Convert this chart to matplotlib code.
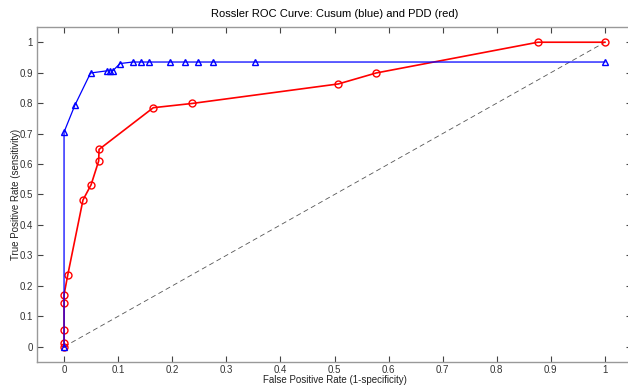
import matplotlib
matplotlib.use('Agg')
import matplotlib.pyplot as plt

plt.rcParams['font.family'] = ['Liberation Sans', 'DejaVu Sans']

# Cusum (blue)
cusum_fpr = [0, 0, 0.020, 0.049, 0.079, 0.085, 0.090, 0.1035, 0.127, 0.142, 0.157,
             0.196, 0.224, 0.247, 0.276, 0.353, 1.0]
cusum_tpr = [0, 0.705, 0.793, 0.899, 0.906, 0.906, 0.906, 0.930, 0.935, 0.935, 0.935,
             0.935, 0.935, 0.935, 0.935, 0.935, 0.935]

# PDD (red)
pdd_fpr = [0, 0, 0, 0, 0, 0.007, 0.035, 0.050, 0.064, 0.0647, 0.165, 0.237,
           0.507, 0.577, 0.876, 1.0]
pdd_tpr = [0, 0.013, 0.056, 0.144, 0.171, 0.237, 0.482, 0.532, 0.610, 0.648, 0.785, 0.799,
           0.863, 0.899, 1.0, 1.0]

xticks = [0, 0.1, 0.2, 0.3, 0.4, 0.5, 0.6, 0.7, 0.8, 0.9, 1]
yticks = [0, 0.1, 0.2, 0.3, 0.4, 0.5, 0.6, 0.7, 0.8, 0.9, 1]
ticklabels = ['0', '0.1', '0.2', '0.3', '0.4', '0.5', '0.6', '0.7', '0.8', '0.9', '1']

fig = plt.figure(figsize=(6.28, 3.85), dpi=100)
ax = fig.add_axes([37/628, 23/385, 595/628, 335/385])

ax.plot([0, 1], [0, 1], color='#555555', linestyle=(0, (6, 4)), linewidth=0.6)
ax.plot(pdd_fpr, pdd_tpr, color='red', linewidth=1.2, marker='o',
        markersize=5, markerfacecolor='none', markeredgewidth=1.0)
ax.plot(cusum_fpr, cusum_tpr, color='blue', linewidth=0.9, marker='^',
        markersize=5, markerfacecolor='none', markeredgewidth=1.0)

ax.set_xlim(-0.05, 1.05)
ax.set_ylim(-0.05, 1.05)
ax.set_xticks(xticks)
ax.set_xticklabels(ticklabels)
ax.set_yticks(yticks)
ax.set_yticklabels(ticklabels)
ax.tick_params(direction='in', length=4, width=0.8, color='#444444', labelcolor='#333333',
               labelsize=7, top=True, right=True)
ax.tick_params(axis='x', pad=2)
ax.tick_params(axis='y', pad=3)

for s in ax.spines.values():
    s.set_color('#999999')
    s.set_linewidth(1.0)

ax.set_title('Rossler ROC Curve: Cusum (blue) and PDD (red)', fontsize=8, pad=7)
ax.set_xlabel('False Positive Rate (1-specificity)', fontsize=7, color='#222222', labelpad=0)
ax.set_ylabel('True Positive Rate (sensitivity)', fontsize=7, color='#222222', labelpad=-1)

fig.savefig('out.png', dpi=100)
